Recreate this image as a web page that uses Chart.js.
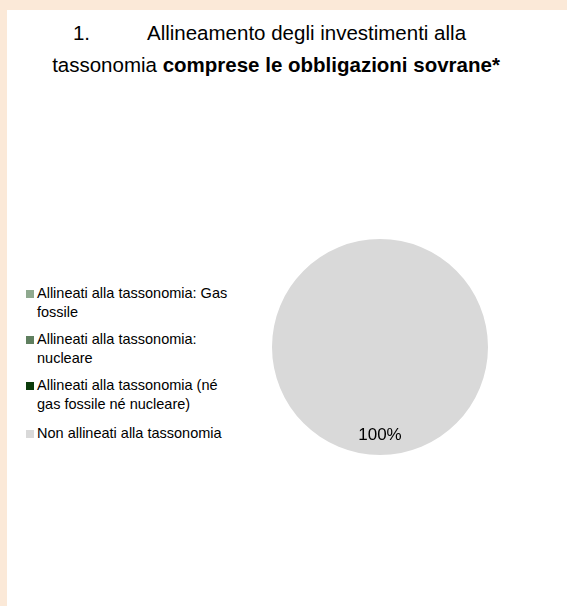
<!DOCTYPE html>
<html>
<head>
<meta charset="utf-8">
<script src="https://cdn.jsdelivr.net/npm/chart.js@4"></script>
<style>
  html, body { margin: 0; padding: 0; }
  body { width: 567px; height: 606px; background: #fbe9d8; position: relative; overflow: hidden;
         font-family: "Liberation Sans", Arial, sans-serif; color: #000; }
  #panel { position: absolute; left: 7px; top: 10px; width: 560px; height: 596px; background: #fff; }
  #title { position: absolute; left: 0; top: 7px; width: 538px; text-align: center;
           font-size: 20.5px; line-height: 32px; white-space: nowrap; }
  #title .num { display: inline-block; width: 74px; text-align: left; }
  #title .tail { display: inline-block; width: 13px; }
  #legend { position: absolute; left: 19px; top: 274px; width: 212px; font-size: 14.5px; }
  #legend ul { list-style: none; margin: 0; padding: 0; }
  #legend li { display: flex; align-items: flex-start; margin-bottom: 8px; line-height: 19px; }
  #legend li:nth-child(3) { margin-bottom: 10px; }
  #legend .box { flex: 0 0 8px; height: 8px; margin: 6px 3px 0 0; }
  #pieWrap { position: absolute; left: 263px; top: 227px; width: 220px; height: 220px; }
</style>
</head>
<body>
<div id="panel">
  <div id="title"><span class="num">1.</span>Allineamento degli investimenti alla<span class="tail"></span><br>tassonomia <b>comprese le obbligazioni sovrane*</b></div>
  <div id="legend"></div>
  <div id="pieWrap"><canvas id="pie"></canvas></div>
</div>
<script>
// categorie e valori (%)
const categories = [
  'Allineati alla tassonomia: Gas fossile',
  'Allineati alla tassonomia: nucleare',
  'Allineati alla tassonomia (né gas fossile né nucleare)',
  'Non allineati alla tassonomia'
];
const values = [0, 0, 0, 100];
const colors = ['#8fa98f', '#5f7f5f', '#0b3b0b', '#d9d9d9'];

// legenda HTML (le etichette vanno a capo come nell'originale)
const htmlLegend = {
  id: 'htmlLegend',
  afterUpdate(chart) {
    const box = document.getElementById('legend');
    const items = chart.options.plugins.legend.labels.generateLabels(chart);
    box.innerHTML = '<ul>' + items.map(it =>
      `<li><span class="box" style="background:${it.fillStyle}"></span><span>${it.text}</span></li>`
    ).join('') + '</ul>';
  }
};

// etichette percentuali sulle fette (solo valori > 0)
const sliceLabels = {
  id: 'sliceLabels',
  afterDatasetsDraw(chart) {
    const { ctx } = chart;
    const meta = chart.getDatasetMeta(0);
    const data = chart.data.datasets[0].data;
    ctx.save();
    ctx.font = '17px "Liberation Sans", Arial, sans-serif';
    ctx.fillStyle = '#000';
    ctx.textAlign = 'center';
    ctx.textBaseline = 'middle';
    meta.data.forEach((arc, i) => {
      if (!data[i]) return;
      const p = arc.getProps(['x', 'y', 'startAngle', 'endAngle', 'outerRadius'], true);
      const mid = (p.startAngle + p.endAngle) / 2;
      const r = p.outerRadius * 0.82;
      ctx.fillText(data[i] + '%', p.x + Math.cos(mid) * r, p.y + Math.sin(mid) * r);
    });
    ctx.restore();
  }
};

new Chart(document.getElementById('pie'), {
  type: 'pie',
  data: {
    labels: categories,
    datasets: [{ data: values, backgroundColor: colors, borderWidth: 0 }]
  },
  options: {
    responsive: true,
    maintainAspectRatio: false,
    animation: false,
    layout: { padding: 2 },
    plugins: { legend: { display: false }, tooltip: { enabled: false } }
  },
  plugins: [htmlLegend, sliceLabels]
});
</script>
</body>
</html>
